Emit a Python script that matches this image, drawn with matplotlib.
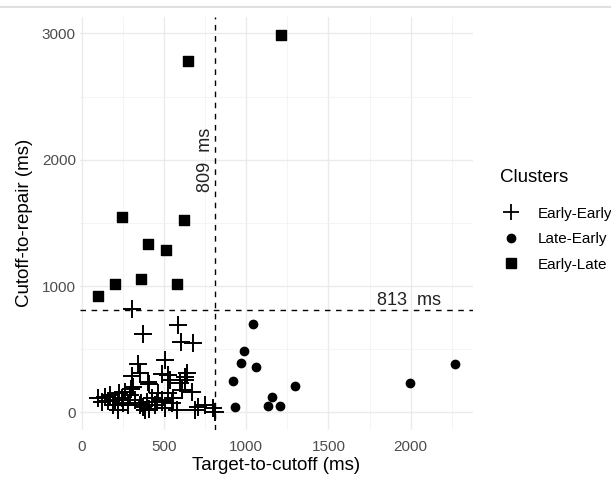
import matplotlib
matplotlib.use("Agg")
import matplotlib.pyplot as plt
from matplotlib.lines import Line2D

plt.rcParams['font.family'] = ['Liberation Sans', 'DejaVu Sans']

# Early-Early cluster (plus markers)
ee_x = [304, 375, 583, 602, 678, 344, 354, 304, 401, 490, 314, 263, 506, 527, 638,
        630, 537, 598, 628, 669, 608, 466, 527, 557, 486, 506, 577, 547, 709, 750,
        800, 810, 456, 689, 101, 142, 172, 202, 223, 192, 122, 243, 294, 324, 354,
        375, 395, 425, 446, 486, 223, 385, 300, 411, 160, 250, 410, 360, 280, 230]
ee_y = [815, 617, 691, 559, 551, 382, 309, 290, 242, 300, 203, 163, 414, 295, 309,
        280, 256, 230, 256, 163, 177, 150, 150, 111, 84, 32, 18, 71, 44, 58,
        32, 0, 84, 18, 111, 124, 137, 97, 58, 58, 84, 111, 137, 97, 58,
        44, 84, 111, 58, 97, 18, 18, 182, 224, 90, 70, 30, 75, 60, 150]

# Late-Early cluster (circles)
le_x = [920, 930, 966, 988, 1039, 1060, 1134, 1157, 1204, 1295, 1994, 2267]
le_y = [248, 44, 393, 488, 699, 361, 52, 119, 52, 211, 232, 382]

# Early-Late cluster (squares)
el_x = [1212, 648, 247, 624, 405, 512, 360, 200, 579, 101]
el_y = [2988, 2779, 1549, 1520, 1333, 1283, 1058, 1013, 1016, 921]

cut_x = 809
cut_y = 813

W, H = 611, 482
fig = plt.figure(figsize=(W / 100, H / 100), dpi=100)
ax = fig.add_axes([80 / W, 1 - 430 / H, (473 - 80) / W, (430 - 16.7) / H])

ax.set_xlim(-10, 2379)
ax.set_ylim(-140, 3132)

# theme_minimal-like grid
for v in [0, 500, 1000, 1500, 2000]:
    ax.axvline(v, color='#EBEBEB', lw=1.0, zorder=0)
for v in [250, 750, 1250, 1750, 2250]:
    ax.axvline(v, color='#F2F2F2', lw=0.6, zorder=0)
for v in [0, 1000, 2000, 3000]:
    ax.axhline(v, color='#EBEBEB', lw=1.0, zorder=0)
for v in [500, 1500, 2500]:
    ax.axhline(v, color='#F2F2F2', lw=0.6, zorder=0)

for s in ax.spines.values():
    s.set_visible(False)
ax.tick_params(length=0, labelsize=11, labelcolor='#4D4D4D')
ax.tick_params(axis='x', pad=7)
ax.tick_params(axis='y', pad=3)
ax.set_xticks([0, 500, 1000, 1500, 2000])
ax.set_yticks([0, 1000, 2000, 3000])

ax.axvline(cut_x, color='black', lw=1.0, ls=(0, (4, 4)), zorder=1)
ax.axhline(cut_y, color='black', lw=1.0, ls=(0, (4, 4)), zorder=1)

ax.scatter(ee_x, ee_y, marker='+', s=160, color='black', linewidths=1.4, zorder=3)
ax.scatter(le_x, le_y, marker='o', s=36, color='black', zorder=3)
ax.scatter(el_x, el_y, marker='s', s=52, color='black', zorder=3)

ax.text(751, 1998, '809  ms', rotation=90, ha='center', va='center', fontsize=13, color='#222222')
ax.text(1990, 889, '813  ms', ha='center', va='center', fontsize=13, color='#222222')

ax.set_xlabel('Target-to-cutoff (ms)', fontsize=13.5, color='black', labelpad=2)
ax.set_ylabel('Cutoff-to-repair (ms)', fontsize=13.5, color='black', labelpad=6)

# legend: title placed separately for a larger gap above the keys
fig.text(500 / W, 1 - 178 / H, 'Clusters', fontsize=13.5, va='center', ha='left')
handles = [
    Line2D([], [], marker='+', ls='none', color='black', ms=12, mew=1.3),
    Line2D([], [], marker='o', ls='none', color='black', ms=6),
    Line2D([], [], marker='s', ls='none', color='black', ms=7),
]
leg = ax.legend(handles, ['Early-Early', 'Late-Early', 'Early-Late'],
                loc='upper left', bbox_to_anchor=(486 / W, 1 - 193 / H),
                bbox_transform=fig.transFigure, frameon=False, fontsize=11,
                handletextpad=1.0, labelspacing=0.75, handlelength=1.5)

fig.add_artist(Line2D([0, 1], [1 - 7.3 / H] * 2, transform=fig.transFigure, color='#E0E0E0', lw=1.5))

fig.savefig('out.png', dpi=100)
